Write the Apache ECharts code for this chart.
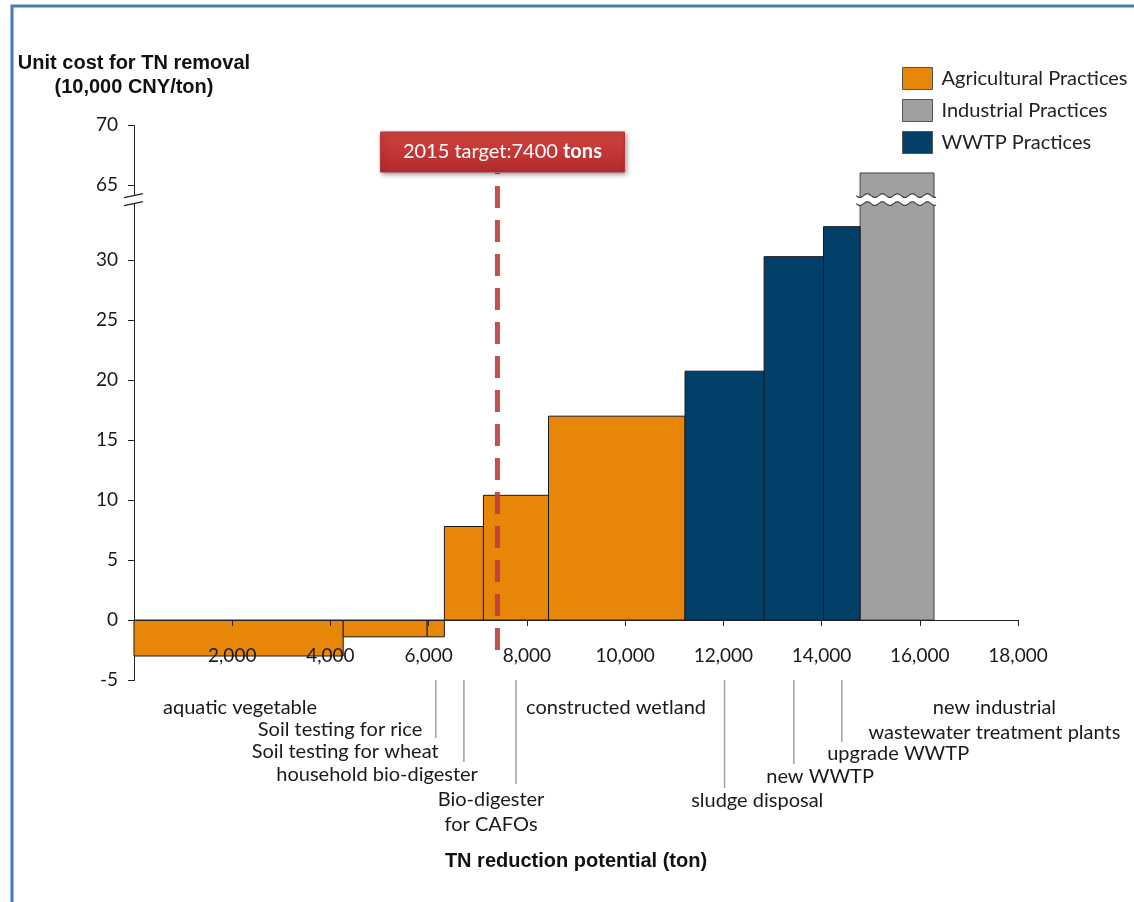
<!DOCTYPE html>
<html><head><meta charset="utf-8">
<script src="https://cdn.jsdelivr.net/npm/echarts@6/dist/echarts.min.js"></script>
<style>html,body{margin:0;padding:0;background:#fff}#c{width:1134px;height:902px}</style>
</head><body><div id="c"></div>
<script>
// ---------------- data ----------------
const practices = ['aquatic vegetable','Soil testing for rice','Soil testing for wheat','household bio-digester','Bio-digester\nfor CAFOs','constructed wetland','sludge disposal','new WWTP','upgrade WWTP','new industrial\nwastewater treatment plants'];
const sectorOf = ['Agricultural Practices','Agricultural Practices','Agricultural Practices','Agricultural Practices','Agricultural Practices','Agricultural Practices','WWTP Practices','WWTP Practices','WWTP Practices','Industrial Practices'];
const reductionStart = [0, 4260, 5970, 6320, 7115, 8440, 11220, 12830, 14040, 14785];
const reductionEnd   = [4260, 5970, 6320, 7115, 8440, 11220, 12830, 14040, 14785, 16290];
const unitCost       = [-3.0, -1.4, -1.4, 7.8, 10.4, 17.0, 20.75, 30.3, 32.8, 66.0];
const sectors = ['Agricultural Practices','Industrial Practices','WWTP Practices'];
const xTicks = [2000,4000,6000,8000,10000,12000,14000,16000,18000];
const yTicks = [-5,0,5,10,15,20,25,30,65,70];
const targetReduction = 7400;
const targetLabel = '2015 target:7400 ';
const targetUnit = 'tons';

// ---------------- layout / style ----------------
const FONT = 'Lato, "Open Sans", sans-serif';
const BOLD = '"Liberation Sans", Arial, sans-serif';
const colors = {'Agricultural Practices':'#E8860A','Industrial Practices':'#A0A0A0','WWTP Practices':'#023F69'};
const edge = {'Agricultural Practices':'#1a1a1a','Industrial Practices':'#444','WWTP Practices':'#1a1a1a'};
// label text centre (data x) and offset in px below the axis bottom
const labelLayout = [
  {x:2160, dy:28},{x:4195, dy:50},{x:4300, dy:72},{x:4950, dy:95},{x:7270, dy:132},
  {x:9815, dy:28},{x:12690, dy:121},{x:13970, dy:97},{x:15560, dy:74},{x:17520, dy:40}
];
const leaderLayout = [{bar:2,len:58},{bar:3,len:82},{bar:4,len:104},{bar:6,len:108},{bar:7,len:84},{bar:8,len:62}];
const BREAK_START = 35, BREAK_END = 64;

function barItem(params, api){
  const i = api.value(3);
  const p0 = api.coord([api.value(0), 0]);
  const p1 = api.coord([api.value(1), api.value(2)]);
  const sec = sectorOf[i];
  const children = [{
    type:'rect',
    shape:{x:p0[0], y:Math.min(p0[1],p1[1]), width:p1[0]-p0[0], height:Math.abs(p1[1]-p0[1])},
    style:{fill:colors[sec], stroke:edge[sec], lineWidth:1}
  }];
  if (api.value(2) > BREAK_END) {
    const c = (api.coord([0,BREAK_START])[1] + api.coord([0,BREAK_END])[1]) / 2 + 1;
    const xa = p0[0]-4, xb = p1[0]+4;
    const top = [], bot = [];
    for (let x = xa; x <= xb + 0.01; x += 2.5) {
      const w = 2 * Math.sin((x - xa) / 15 * 2 * Math.PI);
      top.push([x, c - 4 + w]);
      bot.push([x, c + 4 + w]);
    }
    children.push({type:'polygon', shape:{points: top.concat(bot.slice().reverse())}, style:{fill:'#fff', stroke:null}});
    children.push({type:'polyline', shape:{points: top}, style:{stroke:'#444', lineWidth:1.2, fill:null}});
    children.push({type:'polyline', shape:{points: bot}, style:{stroke:'#444', lineWidth:1.2, fill:null}});
  }
  return {type:'group', children};
}

const barSeries = sectors.map(s => ({
  name: s, type:'custom', renderItem: barItem, clip:false,
  itemStyle:{color: colors[s], borderColor:'#444', borderWidth:1},
  encode:{x:[0,1], y:2},
  data: practices.map((p,i)=> sectorOf[i]===s ? [reductionStart[i], reductionEnd[i], unitCost[i], i] : null).filter(Boolean),
  z: 2
}));

const labelSeries = {
  name:'labels', type:'custom', clip:false, silent:true, z:3,
  encode:{x:0, y:1},
  data: practices.map((p,i)=>[0,0,i]),
  renderItem(params, api){
    const i = api.value(2);
    const bottom = api.coord([0,-5])[1];
    const children = [];
    const lx = api.coord([labelLayout[i].x, -5])[0];
    children.push({type:'text', style:{text:practices[i], x:lx, y:bottom+labelLayout[i].dy, align:'center', verticalAlign:'middle', font:'20px '+FONT, fill:'#1a1a1a', lineHeight:25}});
    leaderLayout.forEach(l => {
      if (l.bar !== i) return;
      const cx = api.coord([(reductionStart[i]+reductionEnd[i])/2, -5])[0];
      children.push({type:'line', shape:{x1:cx, y1:bottom, x2:cx, y2:bottom+l.len}, style:{stroke:'#a0a0a0', lineWidth:1.5}});
    });
    if (i === 0) {
      // axis break marker on the y axis
      const ax = api.coord([0, 0])[0];
      const c = (api.coord([0,BREAK_START])[1] + api.coord([0,BREAK_END])[1]) / 2 + 1;
      children.push({type:'polygon', shape:{points:[[ax-9,c-2],[ax+9,c-6],[ax+9,c+2],[ax-9,c+6]]}, style:{fill:'#fff'}, z2:100});
      children.push({type:'line', shape:{x1:ax-10, y1:c-2, x2:ax+9, y2:c-6}, style:{stroke:'#222', lineWidth:1.3}, z2:101});
      children.push({type:'line', shape:{x1:ax-10, y1:c+6, x2:ax+9, y2:c+2}, style:{stroke:'#222', lineWidth:1.3}, z2:101});
    }
    return {type:'group', children};
  }
};

const targetSeries = {
  name:'target', type:'custom', clip:false, silent:true, z:8,
  encode:{x:0, y:1},
  data:[[targetReduction, -2.5, 66]],
  renderItem(params, api){
    const a = api.coord([api.value(0), api.value(1)]);
    const b = api.coord([api.value(0), api.value(2)]);
    const bw = 244, bh = 40, bx = b[0] + 5 - bw/2, by = b[1] - bh - 1;
    return {type:'group', children:[
      {type:'line', shape:{x1:a[0], y1:a[1], x2:b[0], y2:b[1]}, style:{stroke:'rgba(190,60,62,0.9)', lineWidth:5, lineDash:[22,12]}},
      {type:'rect', shape:{x:bx, y:by, width:bw, height:bh},
       style:{fill:new echarts.graphic.LinearGradient(0,0,0,1,[{offset:0,color:'#d2433f'},{offset:1,color:'#b22a2d'}]), stroke:'#b53234', lineWidth:1, shadowBlur:5, shadowColor:'rgba(0,0,0,0.45)', shadowOffsetX:2, shadowOffsetY:2}},
      {type:'text', style:{text:'{a|'+targetLabel+'}{b|'+targetUnit+'}', x:bx+bw/2, y:by+bh/2, align:'center', verticalAlign:'middle',
        rich:{a:{font:'20px '+FONT, fill:'#fff'}, b:{font:'bold 20px '+FONT, fill:'#fff'}}}}
    ]};
  }
};

const chart = echarts.init(document.getElementById('c'), null, {renderer:'canvas'});
chart.setOption({
  animation:false,
  backgroundColor:'#fff',
  graphic:[{type:'rect', shape:{x:12, y:6, width:1130, height:920}, style:{fill:null, stroke:'#4a7ab4', lineWidth:3}, silent:true}],
  legend:{
    orient:'vertical', left:897, top:62, itemWidth:30, itemHeight:22, itemGap:9,
    textStyle:{fontSize:20, fontFamily:FONT, color:'#222', padding:[0,0,0,4]},
    data: sectors.map(s=>({name:s, icon:'rect', itemStyle:{color:colors[s], borderColor:'#555', borderWidth:1}}))
  },
  grid:{left:134, right:116, top:125, bottom:222, outerBoundsMode:'none', containLabel:false},
  xAxis:{
    type:'value', min:0, max:18000, interval:2000, z:5,
    name:'TN reduction potential (ton)', nameLocation:'middle', nameGap:171,
    nameTextStyle:{fontFamily:BOLD, fontWeight:'bold', fontSize:20, color:'#111'},
    axisLine:{show:true, onZero:true, lineStyle:{color:'#222', width:1}},
    axisTick:{show:true, length:6, lineStyle:{color:'#222'}, customValues:xTicks},
    axisLabel:{customValues:xTicks, margin:-34, fontSize:19, fontFamily:FONT, color:'#1a1a1a',
      formatter:v=>Number(v).toLocaleString('en-US')},
    splitLine:{show:false}
  },
  yAxis:{
    type:'value', min:-5, max:70, z:1,
    breaks:[{start:BREAK_START, end:BREAK_END, gap:'0.6%'}],
    breakArea:{show:false},
    name:'Unit cost for TN removal\n(10,000 CNY/ton)', nameLocation:'end', nameGap:26,
    nameTextStyle:{fontFamily:BOLD, fontWeight:'bold', fontSize:20, color:'#111', align:'center', lineHeight:24},
    axisLine:{show:true, lineStyle:{color:'#222', width:1}},
    axisTick:{show:true, length:6, lineStyle:{color:'#222'}, customValues:yTicks},
    axisLabel:{customValues:yTicks, margin:16, fontSize:19, fontFamily:FONT, color:'#1a1a1a'},
    splitLine:{show:false}
  },
  series: barSeries.concat([labelSeries, targetSeries])
});
</script></body></html>
